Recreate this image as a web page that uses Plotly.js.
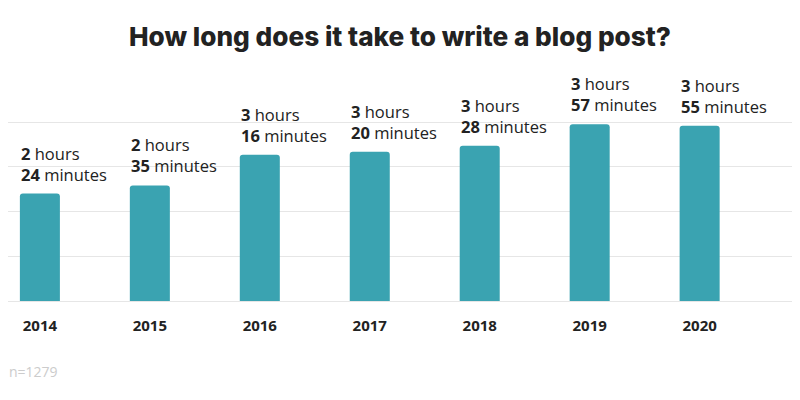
<!DOCTYPE html>
<html>
<head>
<meta charset="utf-8">
<script src="https://cdn.plot.ly/plotly-3.0.1.min.js"></script>
<style>
  body { margin: 0; background: #fff; }
  #chart { width: 800px; height: 400px; }
</style>
</head>
<body>
<div id="chart"></div>
<script>
// average time spent writing a post, in minutes
var years = ['2014', '2015', '2016', '2017', '2018', '2019', '2020']
var minutes = [144, 155, 196, 200, 208, 237, 235]
var hourLabels = ['2', '2', '3', '3', '3', '3', '3']
var minuteLabels = ['24', '35', '16', '20', '28', '57', '55']

var teal = '#3aa3b1'
var dark = '#222222'

var trace = {
    x: years,
    y: minutes,
    type: 'bar',
    width: 0.364,
    marker: { color: teal, cornerradius: 3 },
    hoverinfo: 'none'
}

var annotations = years.map(function (yr, i) {
    return {
        x: i,
        y: minutes[i],
        xref: 'x',
        yref: 'y',
        text: '<b>' + hourLabels[i] + '</b> hours<br><b>' + minuteLabels[i] + '</b> minutes',
        showarrow: false,
        xanchor: 'left',
        yanchor: 'bottom',
        align: 'left',
        xshift: -21,
        yshift: 6,
        font: { family: 'Open Sans, sans-serif', size: 16.5, color: dark }
    }
})

annotations.push({
    x: 0,
    y: 0,
    xref: 'paper',
    yref: 'paper',
    xanchor: 'left',
    yanchor: 'bottom',
    text: 'n=1279',
    showarrow: false,
    xshift: -1,
    yshift: -82,
    font: { family: 'Open Sans, sans-serif', size: 14, color: '#cccccc' }
})

var layout = {
    width: 800,
    height: 400,
    margin: { l: 8, r: 8, t: 78, b: 99 },
    paper_bgcolor: '#ffffff',
    plot_bgcolor: '#ffffff',
    showlegend: false,
    title: {
        text: 'How long does it take to write a blog post?',
        x: 0.5,
        xanchor: 'center',
        y: 0.908,
        yanchor: 'middle',
        font: { family: 'Inter, sans-serif', size: 26.2, color: dark, weight: 800 }
    },
    xaxis: {
        type: 'category',
        range: [-0.29, 6.84],
        showgrid: false,
        showline: false,
        zeroline: false,
        ticks: '',
        ticklabelstandoff: 14,
        tickfont: { family: 'Open Sans, sans-serif', size: 15, color: dark, weight: 'bold' },
        fixedrange: true
    },
    yaxis: {
        range: [0, 299],
        dtick: 60,
        tick0: 0,
        showticklabels: false,
        showgrid: true,
        gridcolor: '#e6e6e6',
        gridwidth: 1,
        zeroline: true,
        zerolinecolor: '#e6e6e6',
        zerolinewidth: 1,
        showline: false,
        ticks: '',
        fixedrange: true
    },
    annotations: annotations
}

Plotly.newPlot('chart', [trace], layout, { displayModeBar: false, staticPlot: true })
</script>
</body>
</html>
